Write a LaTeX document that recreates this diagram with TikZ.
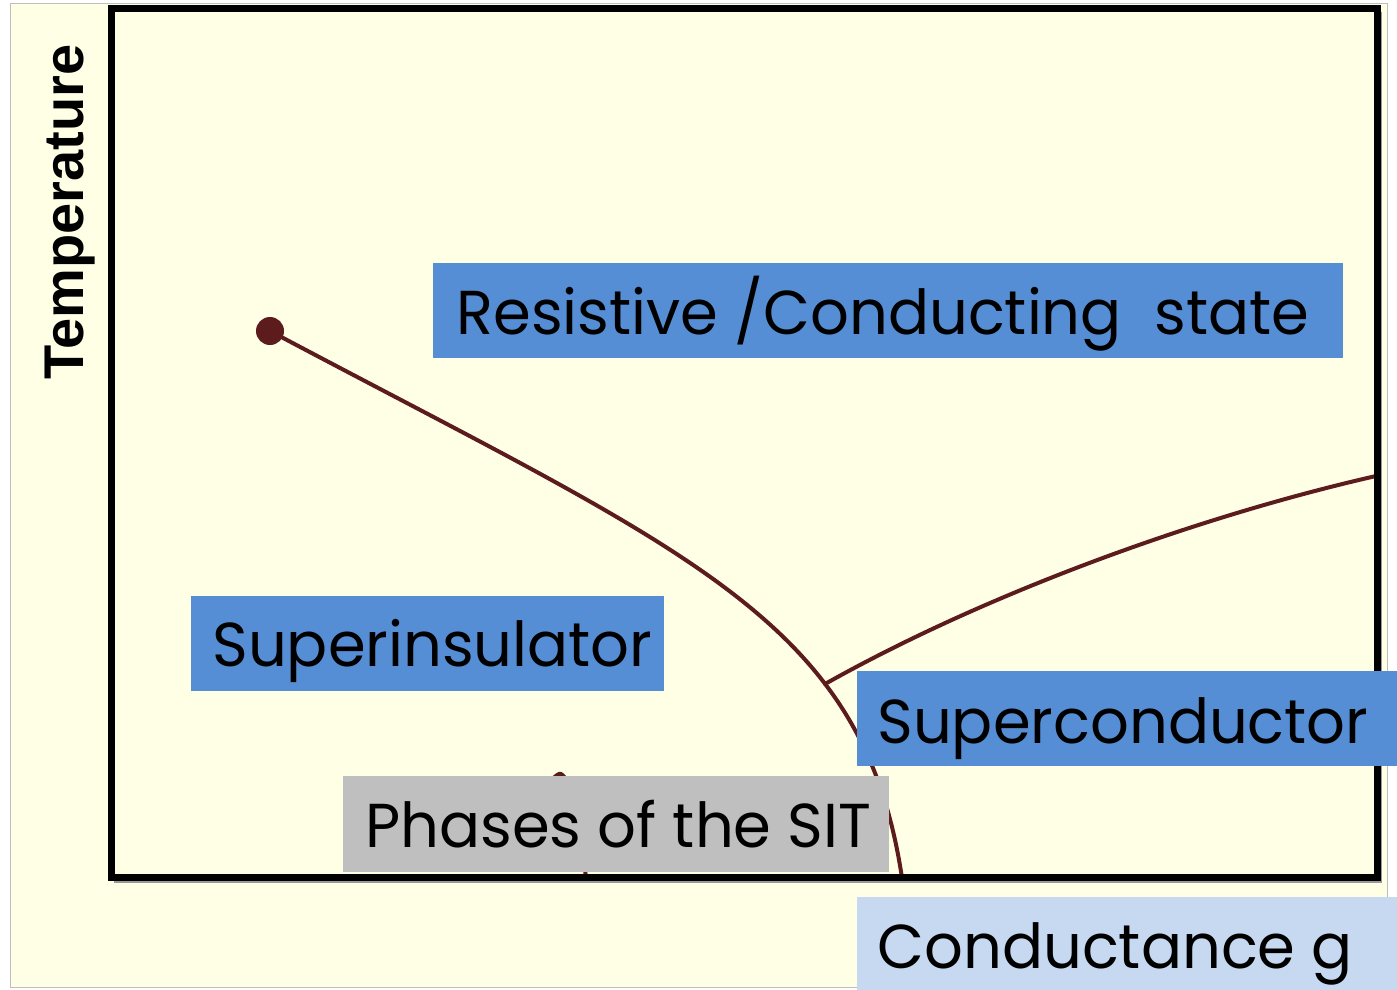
\documentclass[tikz,border=0pt]{standalone}
\usepackage{fontspec}
\setmainfont{Poppins}[FakeStretch=0.98]
\newfontfamily\labelfont{Liberation Sans}
\definecolor{cream}{RGB}{255,255,230}
\definecolor{boxblue}{RGB}{85,142,213}
\definecolor{lightblue}{RGB}{198,217,241}
\definecolor{boxgray}{RGB}{191,191,191}
\definecolor{curvec}{RGB}{92,28,30}
\definecolor{edgegray}{RGB}{190,190,190}
\tikzset{
  panel/.style={anchor=north west, inner sep=0pt},
  txt/.style={anchor=base west, inner sep=0pt, text=black,
    font=\fontsize{31}{31}\selectfont},
  curve/.style={draw=curvec, line width=2pt, line cap=round},
}
\begin{document}
\begin{tikzpicture}[x=0.5pt,y=-0.5pt]
\useasboundingbox (0,0) rectangle (1397,990);
\fill[white] (0,0) rectangle (1397,990);
\draw[edgegray, fill=cream, line width=0.5pt] (10,4) rectangle (1387,987);
% shadow of frame
\draw[black!40, line width=2pt] (114,881) -- (1380,881) -- (1380,12);
% curves
\coordinate (dot) at (270,331);
\coordinate (junc) at (825,684);
\coordinate (base) at (902,878);
\coordinate (rightend) at (1376,476);
\draw[curve] (dot) .. controls (690,554) and (863,618) .. (base);
\draw[curve] (junc) .. controls (985,594) and (1196,517) .. (rightend);
\draw[curve] plot[smooth] coordinates {(548,785) (561,774) (575,800) (586,878)};
\fill[curvec] (dot) circle (7pt);
% frame
\draw[black, line width=3.5pt] (111,9) rectangle (1377,877);
% boxes
\node[panel, fill=boxblue, minimum width=455pt, minimum height=47.5pt] (resbox) at (433,263) {};
\node[panel, fill=boxblue, minimum width=236.5pt, minimum height=47.5pt] (sibox) at (191,596) {};
\node[panel, fill=boxblue, minimum width=270pt, minimum height=47.5pt] (scbox) at (857,671) {};
\node[panel, fill=boxgray, minimum width=273pt, minimum height=48pt] (phbox) at (343,776) {};
\node[panel, fill=lightblue, minimum width=270pt, minimum height=46.5pt] (cgbox) at (857,897) {};
% labels
\node[txt] (res) at (456,334) {Resistive /Conducting\ \ state};
\node[txt] (si) at (212,666) {Superinsulator};
\node[txt] (sc) at (877,743) {Superconductor};
\node[txt] (ph) at (365,847) {Phases of the SIT};
\node[txt] (cg) at (877,968) {Conductance g};
\node[rotate=90, font=\labelfont\bfseries\fontsize{28}{28}\selectfont] (temp) at (70,212) {Temperature};
\end{tikzpicture}
\end{document}
